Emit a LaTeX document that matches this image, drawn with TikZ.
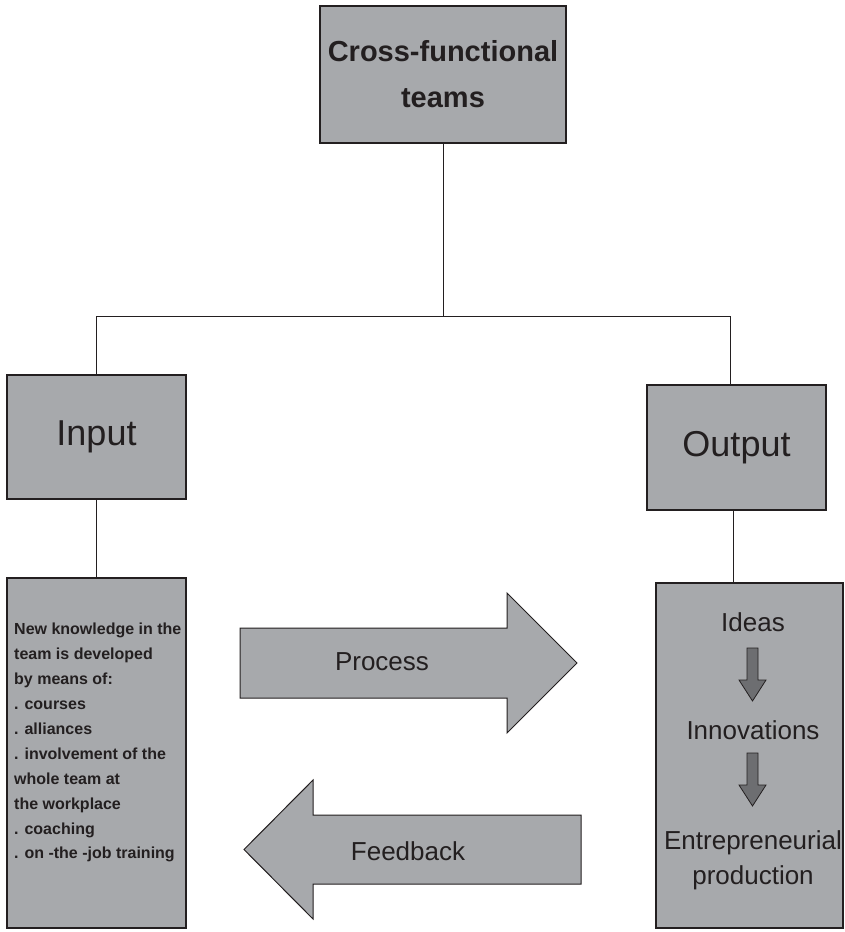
\documentclass[tikz,border=0pt]{standalone}
\usepackage{fontspec}
\setmainfont{Liberation Sans}
\usetikzlibrary{positioning}
\definecolor{boxgray}{HTML}{A7A9AC}
\definecolor{arrowgray}{HTML}{6D6E71}
\definecolor{inkgray}{HTML}{231F20}
\tikzset{
  box/.style={draw=inkgray, line width=1.2pt, fill=boxgray, text=inkgray, inner sep=0pt},
  link/.style={draw=inkgray, line width=1pt},
  bigarrow/.style={draw=inkgray, line width=1pt, fill=boxgray, line join=miter},
  smallarrow/.style={draw=inkgray, line width=0.8pt, fill=arrowgray},
  word/.style={text=inkgray, inner sep=0pt, font=\fontsize{26}{30}\selectfont}
}
\begin{document}
\begin{tikzpicture}[x=1pt, y=-1pt]
    \useasboundingbox (0,0) rectangle (845,932);
    \node[box, minimum width=246pt, minimum height=137pt, align=center,
          font=\bfseries\fontsize{29}{46}\selectfont] (teams) at (443,74.5)
          {Cross-functional\\teams};
    \node[box, minimum width=179pt, minimum height=124pt,
          font=\fontsize{36}{40}\selectfont] (input) at (96.5,437) {Input};
    \node[box, minimum width=179pt, minimum height=125pt,
          font=\fontsize{36}{40}\selectfont] (output) at (736.5,447.5) {Output};
    \node[box, minimum width=179pt, minimum height=350pt] (means) at (96.5,753) {};
    \node[box, minimum width=187pt, minimum height=345pt] (results) at (749.5,755.5) {};
    % tree lines
    \coordinate (split) at (443,316);
    \draw[link] (teams) -- (split);
    \draw[link] (split) -| (input);
    \draw[link] (split) -| ([xshift=-6pt]output.north);
    \draw[link] (input) -- (means);
    \draw[link] ([xshift=-3pt]output.south) -- ([xshift=-3pt]output.south |- results.north);
    % input text
    \node[anchor=north west, align=left, text=inkgray, inner sep=0pt,
          font=\bfseries\fontsize{16}{24.9}\selectfont] (meanstext) at (14,623)
          {New knowledge in the\\team is developed\\by means of:\\. courses\\. alliances\\
           . involvement of the\\whole team at\\the workplace\\. coaching\\. on -the -job training};
    % output text
    \node[word, anchor=base] (ideas) at (753,631) {Ideas};
    \node[word, anchor=base] (innov) at (753,739) {Innovations};
    \node[word, anchor=base] (entre) at (753,849) {Entrepreneurial};
    \node[word, anchor=base] (prod) at (753,884) {production};
    \foreach \y in {648,753}
        \draw[smallarrow] (747,\y) -- ++(11,0) -- ++(0,32) -- ++(8,0)
            -- ++(-13.5,21) -- ++(-13.5,-21) -- ++(8,0) -- cycle;
    % process and feedback
    \draw[bigarrow] (240,628) -- (507,628) -- (507,593) -- (577,663)
        -- (507,733) -- (507,698) -- (240,698) -- cycle;
    \node[word] (process) at (382,662) {Process};
    \draw[bigarrow] (581,815) -- (313,815) -- (313,780) -- (244,849.5)
        -- (313,919) -- (313,884) -- (581,884) -- cycle;
    \node[word] (feedback) at (408,851) {Feedback};
\end{tikzpicture}
\end{document}
